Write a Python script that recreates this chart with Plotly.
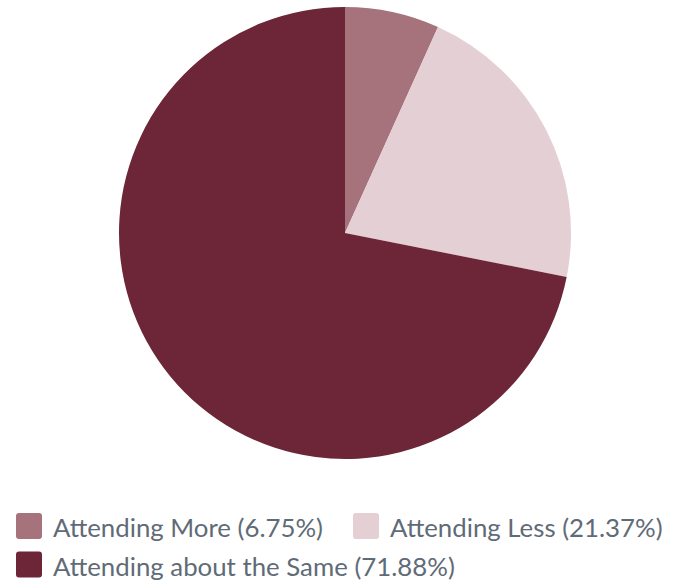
import plotly.graph_objects as go

labels = ["Attending More", "Attending Less", "Attending about the Same"]
values = [6.75, 21.37, 71.88]
colors = ["#a6737d", "#e3cfd4", "#6d2538"]

W, H = 675, 582

def px_x(x):
    return x / W

def px_y(y):
    return 1 - y / H

fig = go.Figure()
fig.add_trace(go.Pie(
    labels=labels,
    values=values,
    marker=dict(colors=colors, line=dict(width=0)),
    sort=False,
    direction="clockwise",
    rotation=0,
    textinfo="none",
    hoverinfo="label+percent",
    showlegend=False,
    domain=dict(x=[px_x(345 - 226), px_x(345 + 226)], y=[px_y(459), px_y(7)]),
))

# manual legend: (swatch left x, row center y)
legend_pos = [(16, 526), (353, 526), (16, 564.5)]
sw = 26
r = 3
for (lx, cy), lab, val, col in zip(legend_pos, labels, values, colors):
    x0, x1 = lx, lx + sw
    y0, y1 = cy - sw / 2, cy + sw / 2
    path = (f"M {px_x(x0 + r)} {px_y(y0)} L {px_x(x1 - r)} {px_y(y0)} "
            f"Q {px_x(x1)} {px_y(y0)} {px_x(x1)} {px_y(y0 + r)} "
            f"L {px_x(x1)} {px_y(y1 - r)} Q {px_x(x1)} {px_y(y1)} {px_x(x1 - r)} {px_y(y1)} "
            f"L {px_x(x0 + r)} {px_y(y1)} Q {px_x(x0)} {px_y(y1)} {px_x(x0)} {px_y(y1 - r)} "
            f"L {px_x(x0)} {px_y(y0 + r)} Q {px_x(x0)} {px_y(y0)} {px_x(x0 + r)} {px_y(y0)} Z")
    fig.add_shape(type="path", xref="paper", yref="paper", path=path,
                  fillcolor=col, line=dict(width=0))
    fig.add_annotation(xref="paper", yref="paper", x=px_x(lx + sw + 9), y=px_y(cy + 1),
                       xanchor="left", yanchor="middle", showarrow=False,
                       text=f"{lab} ({val:.2f}%)",
                       font=dict(family="Lato", size=25.8, color="#5f6b77"))

fig.update_layout(
    width=W, height=H,
    margin=dict(l=0, r=0, t=0, b=0),
    paper_bgcolor="white",
    plot_bgcolor="white",
)
fig.write_html("out.html", config={"displayModeBar": False},
               post_script="document.body.style.margin='0';")
